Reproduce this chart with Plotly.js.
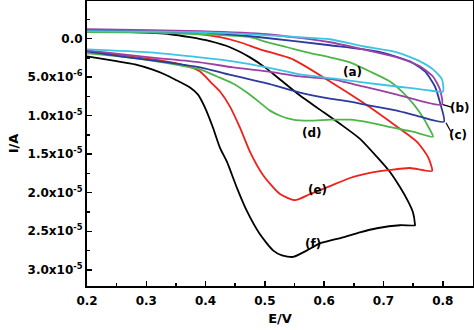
<!DOCTYPE html>
<html>
<head>
<meta charset="utf-8">
<script src="https://cdn.plot.ly/plotly-3.0.1.min.js"></script>
<style>html,body{margin:0;padding:0;background:#fff;}#chart{width:474px;height:330px;}</style>
</head>
<body>
<div id="chart"></div>
<script>
// Potential E (V) and current I (in units of 1e-6 A) for each cyclic voltammogram
const f_E = [0.200,0.2725,0.3400,0.3737,0.4074,0.4411,0.4749,0.5002,0.5255,0.5592,0.5929,0.6266,0.6604,0.6890,0.7110,0.7278,0.7413,0.7497,0.7531,
             0.7531,0.7278,0.6890,0.6604,0.6317,0.5929,0.5710,0.5474,0.5288,0.5137,0.4917,0.4698,0.4530,0.4361,0.4243,0.4125,0.3990,0.3872,0.3737,0.3484,0.3315,0.3096,0.2809,0.2472,0.200];
const f_I = [-0.95,-0.82,-0.56,-0.17,0.35,1.13,2.44,3.74,5.31,7.40,9.22,11.05,13.01,15.35,17.31,19.27,21.09,22.53,24.09,
             24.22,24.22,24.61,25.13,25.79,26.57,27.48,28.33,28.14,27.48,25.40,22.40,19.40,16.01,14.18,11.57,8.96,7.27,6.35,5.31,4.66,4.00,3.35,2.90,2.31];

const e_E = [0.200,0.2725,0.3231,0.3737,0.4243,0.4580,0.4917,0.5474,0.6098,0.6654,0.7228,0.7565,0.7750,0.7818,
             0.7447,0.7110,0.6772,0.6435,0.6098,0.5761,0.5508,0.5255,0.4968,0.4749,0.4580,0.4411,0.4243,0.4125,0.3906,0.3653,0.3231,0.2725,0.200];
const e_I = [-1.08,-0.95,-0.82,-0.69,-0.17,0.48,1.40,2.70,5.57,8.31,11.44,13.40,15.35,17.18,
             16.79,17.05,17.44,18.09,19.14,20.18,20.96,20.18,17.70,14.70,11.57,8.83,6.87,5.96,4.27,3.48,2.83,2.31,1.66];

const d_E = [0.200,0.3062,0.3906,0.4749,0.5035,0.5373,0.5710,0.6098,0.6435,0.6772,0.7110,0.7396,0.7616,0.7784,0.7835,
             0.7497,0.7160,0.6772,0.6435,0.6098,0.5761,0.5474,0.5255,0.5086,0.4917,0.4698,0.4462,0.4192,0.3906,0.3568,0.3062,0.2556,0.200];
const d_I = [-0.82,-0.76,-0.56,-0.17,0.48,1.13,1.79,2.44,3.09,4.27,5.57,7.53,9.62,11.83,12.74,
             12.09,11.57,10.92,10.53,10.53,10.66,10.53,10.01,9.35,8.31,7.01,5.83,4.92,4.00,3.48,2.83,2.31,1.92];

const c_E = [0.200,0.3906,0.4917,0.6098,0.6890,0.7447,0.7700,0.7868,0.7953,0.8020,
             0.7616,0.7228,0.6772,0.6435,0.6098,0.5592,0.5035,0.4462,0.3906,0.3231,0.2556,0.200];
const c_I = [-1.08,-0.82,-0.17,0.87,1.66,2.96,4.27,6.22,8.31,10.79,
             10.14,9.35,8.70,8.18,7.79,7.01,5.83,4.79,3.74,2.96,2.31,1.66];

const b_E = [0.200,0.3062,0.3906,0.5035,0.6098,0.6654,0.7228,0.7616,0.7835,0.7953,0.7987,
             0.7666,0.7228,0.6654,0.6148,0.5592,0.5035,0.4462,0.3906,0.3062,0.200];
const b_I = [-1.21,-1.08,-0.95,-0.56,0.48,1.40,2.44,3.61,4.92,6.61,8.57,
             8.18,7.27,6.22,5.31,4.92,4.27,3.74,3.09,2.44,1.53];

const a_E = [0.200,0.3906,0.5592,0.6098,0.6654,0.7228,0.7616,0.7835,0.7987,0.8003,
             0.7784,0.7228,0.6654,0.6148,0.5592,0.5035,0.4462,0.3906,0.3062,0.200];
const a_I = [-0.95,-0.82,-0.17,0.09,1.00,1.79,2.96,4.00,5.31,6.87,
             6.74,6.22,5.70,5.18,4.66,3.74,2.96,2.44,1.79,1.40];

const curveLabels = ['(a)','(b)','(c)','(d)','(e)','(f)'];
const labelE = [0.6486,0.829,0.8256,0.5794,0.5879,0.5811];
const labelI = [4.31,8.96,12.48,12.22,19.66,26.70];

const yTickVals = [0,5,10,15,20,25,30];
const yTickText = ['0.0','5.0x10<sup>-6</sup>','1.0x10<sup>-5</sup>','1.5x10<sup>-5</sup>','2.0x10<sup>-5</sup>','2.5x10<sup>-5</sup>','3.0x10<sup>-5</sup>'];
const xTickVals = [0.2,0.3,0.4,0.5,0.6,0.7,0.8];
const xTickText = ['0.2','0.3','0.4','0.5','0.6','0.7','0.8'];

const colors = {f:'#000000', e:'#f0201a', d:'#4cb648', c:'#2a3a9e', b:'#9a40a6', a:'#3ec4e2'};
const lw = 1.8;
function tr(x,y,c){return {x:x,y:y,mode:'lines',type:'scatter',line:{color:c,width:lw,shape:'spline',smoothing:0.6},hoverinfo:'skip',showlegend:false};}

const data = [
  tr(f_E,f_I,colors.f), tr(e_E,e_I,colors.e), tr(d_E,d_I,colors.d),
  tr(c_E,c_I,colors.c), tr(b_E,b_I,colors.b), tr(a_E,a_I,colors.a)
];

const fontFam = '"DejaVu Sans", Arial, sans-serif';
const bold = s => '<b>'+s+'</b>';
const annotations = curveLabels.map((t,i)=>({x:labelE[i],y:labelI[i],xref:'x',yref:'y',text:bold(t),showarrow:false,font:{family:fontFam,size:12,color:'#000'}}));

const layout = {
  width:474,height:330,
  margin:{l:87,r:1,t:1,b:44,pad:0},
  paper_bgcolor:'#fff',plot_bgcolor:'#fff',
  showlegend:false,
  font:{family:fontFam,size:12,color:'#000'},
  xaxis:{range:[0.2,0.851],tickvals:xTickVals,ticktext:xTickText.map(bold),ticks:'inside',ticklen:5,tickwidth:1.5,tickcolor:'#000',
    minor:{dtick:0.05,tick0:0.2,ticks:'inside',ticklen:3,tickwidth:1.5,tickcolor:'#000'},
    showline:true,linewidth:2,linecolor:'#000',mirror:true,showgrid:false,zeroline:false,
    ticklabelstandoff:3,
    tickfont:{family:fontFam,size:12,color:'#000'},
    title:{text:bold('E/V'),font:{family:fontFam,size:13,color:'#000'},standoff:6}},
  yaxis:{range:[32.1,-4.87],tickvals:yTickVals,ticktext:yTickText.map(bold),ticks:'inside',ticklen:5,tickwidth:1.5,tickcolor:'#000',
    minor:{dtick:2.5,tick0:0,ticks:'inside',ticklen:3,tickwidth:1.5,tickcolor:'#000'},
    showline:true,linewidth:2,linecolor:'#000',mirror:true,showgrid:false,zeroline:false,
    tickfont:{family:fontFam,size:12,color:'#000'},
    title:{text:bold('I/A'),font:{family:fontFam,size:13,color:'#000'},standoff:6}},
  annotations:annotations,
  shapes:[
    {type:'line',xref:'x',yref:'y',x0:0.8003,y0:8.57,x1:0.8172,y1:8.96,line:{color:'#000',width:1.2}},
    {type:'line',xref:'x',yref:'y',x0:0.8054,y0:10.92,x1:0.8138,y1:12.09,line:{color:'#000',width:1.2}}
  ]
};
Plotly.newPlot('chart',data,layout,{staticPlot:true,displayModeBar:false});
</script>
</body>
</html>
